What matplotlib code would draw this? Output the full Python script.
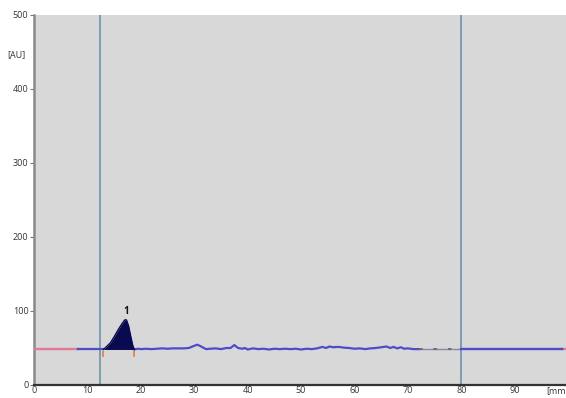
import matplotlib
matplotlib.use("Agg")
import matplotlib.pyplot as plt

# ---- data ----
xticks = [0, 10, 20, 30, 40, 50, 60, 70, 80, 90]
xtick_labels = ["0", "10", "20", "30", "40", "50", "60", "70", "80", "90"]
yticks = [0, 100, 200, 300, 400, 500]
ytick_labels = ["0", "100", "200", "300", "400", "500"]

baseline_level = 48.0
vlines_mm = [12.3, 80.0]

red_left = [0.0, 8.3]
red_right = [98.8, 99.6]

lead_x = [8.3, 13.0]
lead_y = [48.0, 48.0]

peak_x = [13.0, 13.6, 14.3, 15.0, 15.7, 16.4, 17.0, 17.3, 17.7, 18.1, 18.5, 18.8]
peak_y = [48, 52, 57, 65, 74, 82, 88, 88, 80, 66, 53, 48]

noise_x = [18.8, 19, 19.5, 20, 21, 22, 23, 24, 25, 26, 27, 28, 29, 30, 30.6, 31.3, 32.2,
           33, 34, 35, 36, 36.8, 37.5, 38.2, 39, 39.5, 40, 41, 42, 43, 44, 45, 46, 47,
           48, 49, 50, 51, 52, 53, 54, 54.7, 55.3, 56, 57, 58, 59, 60, 61, 62, 63, 64,
           65, 66, 66.7, 67.3, 68, 68.7, 69.3, 70, 71, 72]
noise_y = [48, 48.5, 49, 48.5, 49, 48.5, 49, 49.5, 49, 49.5, 49.5, 49.5, 50, 53, 54.5, 52, 48.5,
           49, 49.5, 48.5, 50, 50, 54, 50, 49, 50, 48, 49.5, 48.5, 49, 48, 49, 48.5, 49,
           48.5, 49, 48, 49, 48.5, 49.5, 51.5, 50, 52, 51, 51.5, 50.5, 50, 49, 49.5, 48.5, 49.5, 50,
           51, 52, 50, 51.5, 49.5, 51, 49, 49.5, 48.5, 48.5]

gray_x = [72, 80]
tail_x = [80, 98.8]

peak_label = "1"
peak_label_pos = (17.2, 100)
peak_feet = [13.0, 18.8]

# ---- figure ----
plt.rcParams['font.family'] = ['Open Sans', 'DejaVu Sans']
fig = plt.figure(figsize=(5.66, 3.98), dpi=100)
ax = fig.add_axes([34 / 566, 13 / 398, 1 - 34 / 566, (385 - 15) / 398])
ax.set_facecolor('#d8d8d8')
ax.set_xlim(0, 99.6)
ax.set_ylim(0, 500)

for v in vlines_mm:
    ax.axvline(v, color='#7d9db0', lw=1.4, zorder=1)

blue = '#4d4dcc'
ax.plot(red_left, [baseline_level] * 2, color='#e07a9a', lw=1.7, zorder=3)
ax.plot(red_right, [baseline_level] * 2, color='#e07a9a', lw=1.7, zorder=3)
ax.plot(lead_x, lead_y, color=blue, lw=1.6, zorder=3)
ax.fill_between(peak_x, baseline_level, peak_y, color='#0a0a50', zorder=4, lw=0)
ax.plot(peak_x, peak_y, color='#0a0a50', lw=1.0, zorder=4)
ax.plot(noise_x, noise_y, color=blue, lw=1.6, zorder=3)
ax.plot(gray_x, [baseline_level] * 2, color='#8a8aa8', lw=1.0, zorder=3)
ax.plot(gray_x, [baseline_level] * 2, color='#666677', lw=1.3, ls=(0, (2, 6)), zorder=3)
ax.plot(tail_x, [baseline_level] * 2, color=blue, lw=1.7, zorder=3)

for fx in peak_feet:
    ax.plot([fx], [baseline_level - 6], marker='|', color='#e08040', ms=4, mew=1.2, zorder=5)

ax.text(peak_label_pos[0], peak_label_pos[1], peak_label, ha='center', va='center',
        fontsize=7, fontweight='bold', color='#111111', zorder=6)

ax.set_xticks(xticks)
ax.set_xticklabels(xtick_labels)
ax.set_yticks(yticks)
ax.set_yticklabels(ytick_labels)
ax.tick_params(axis='x', length=0, pad=0.5, labelsize=6.5, labelcolor='#333333')
ax.tick_params(axis='y', length=3, width=0.8, color='#777777', pad=1,
               labelsize=6.5, labelcolor='#333333')

ax.text(-1.6, 446, "[AU]", ha='right', va='center', fontsize=6.5, color='#333333',
        clip_on=False)
ax.text(99.5, -8, "[mm", ha='right', va='center', fontsize=6.5, color='#333333',
        clip_on=False)

for s in ['top', 'right']:
    ax.spines[s].set_visible(False)
ax.spines['left'].set_color('#8a8a8a')
ax.spines['left'].set_linewidth(1.8)
ax.spines['bottom'].set_color('#333333')
ax.spines['bottom'].set_linewidth(1.6)

fig.savefig('out.png', dpi=100, facecolor='white')
